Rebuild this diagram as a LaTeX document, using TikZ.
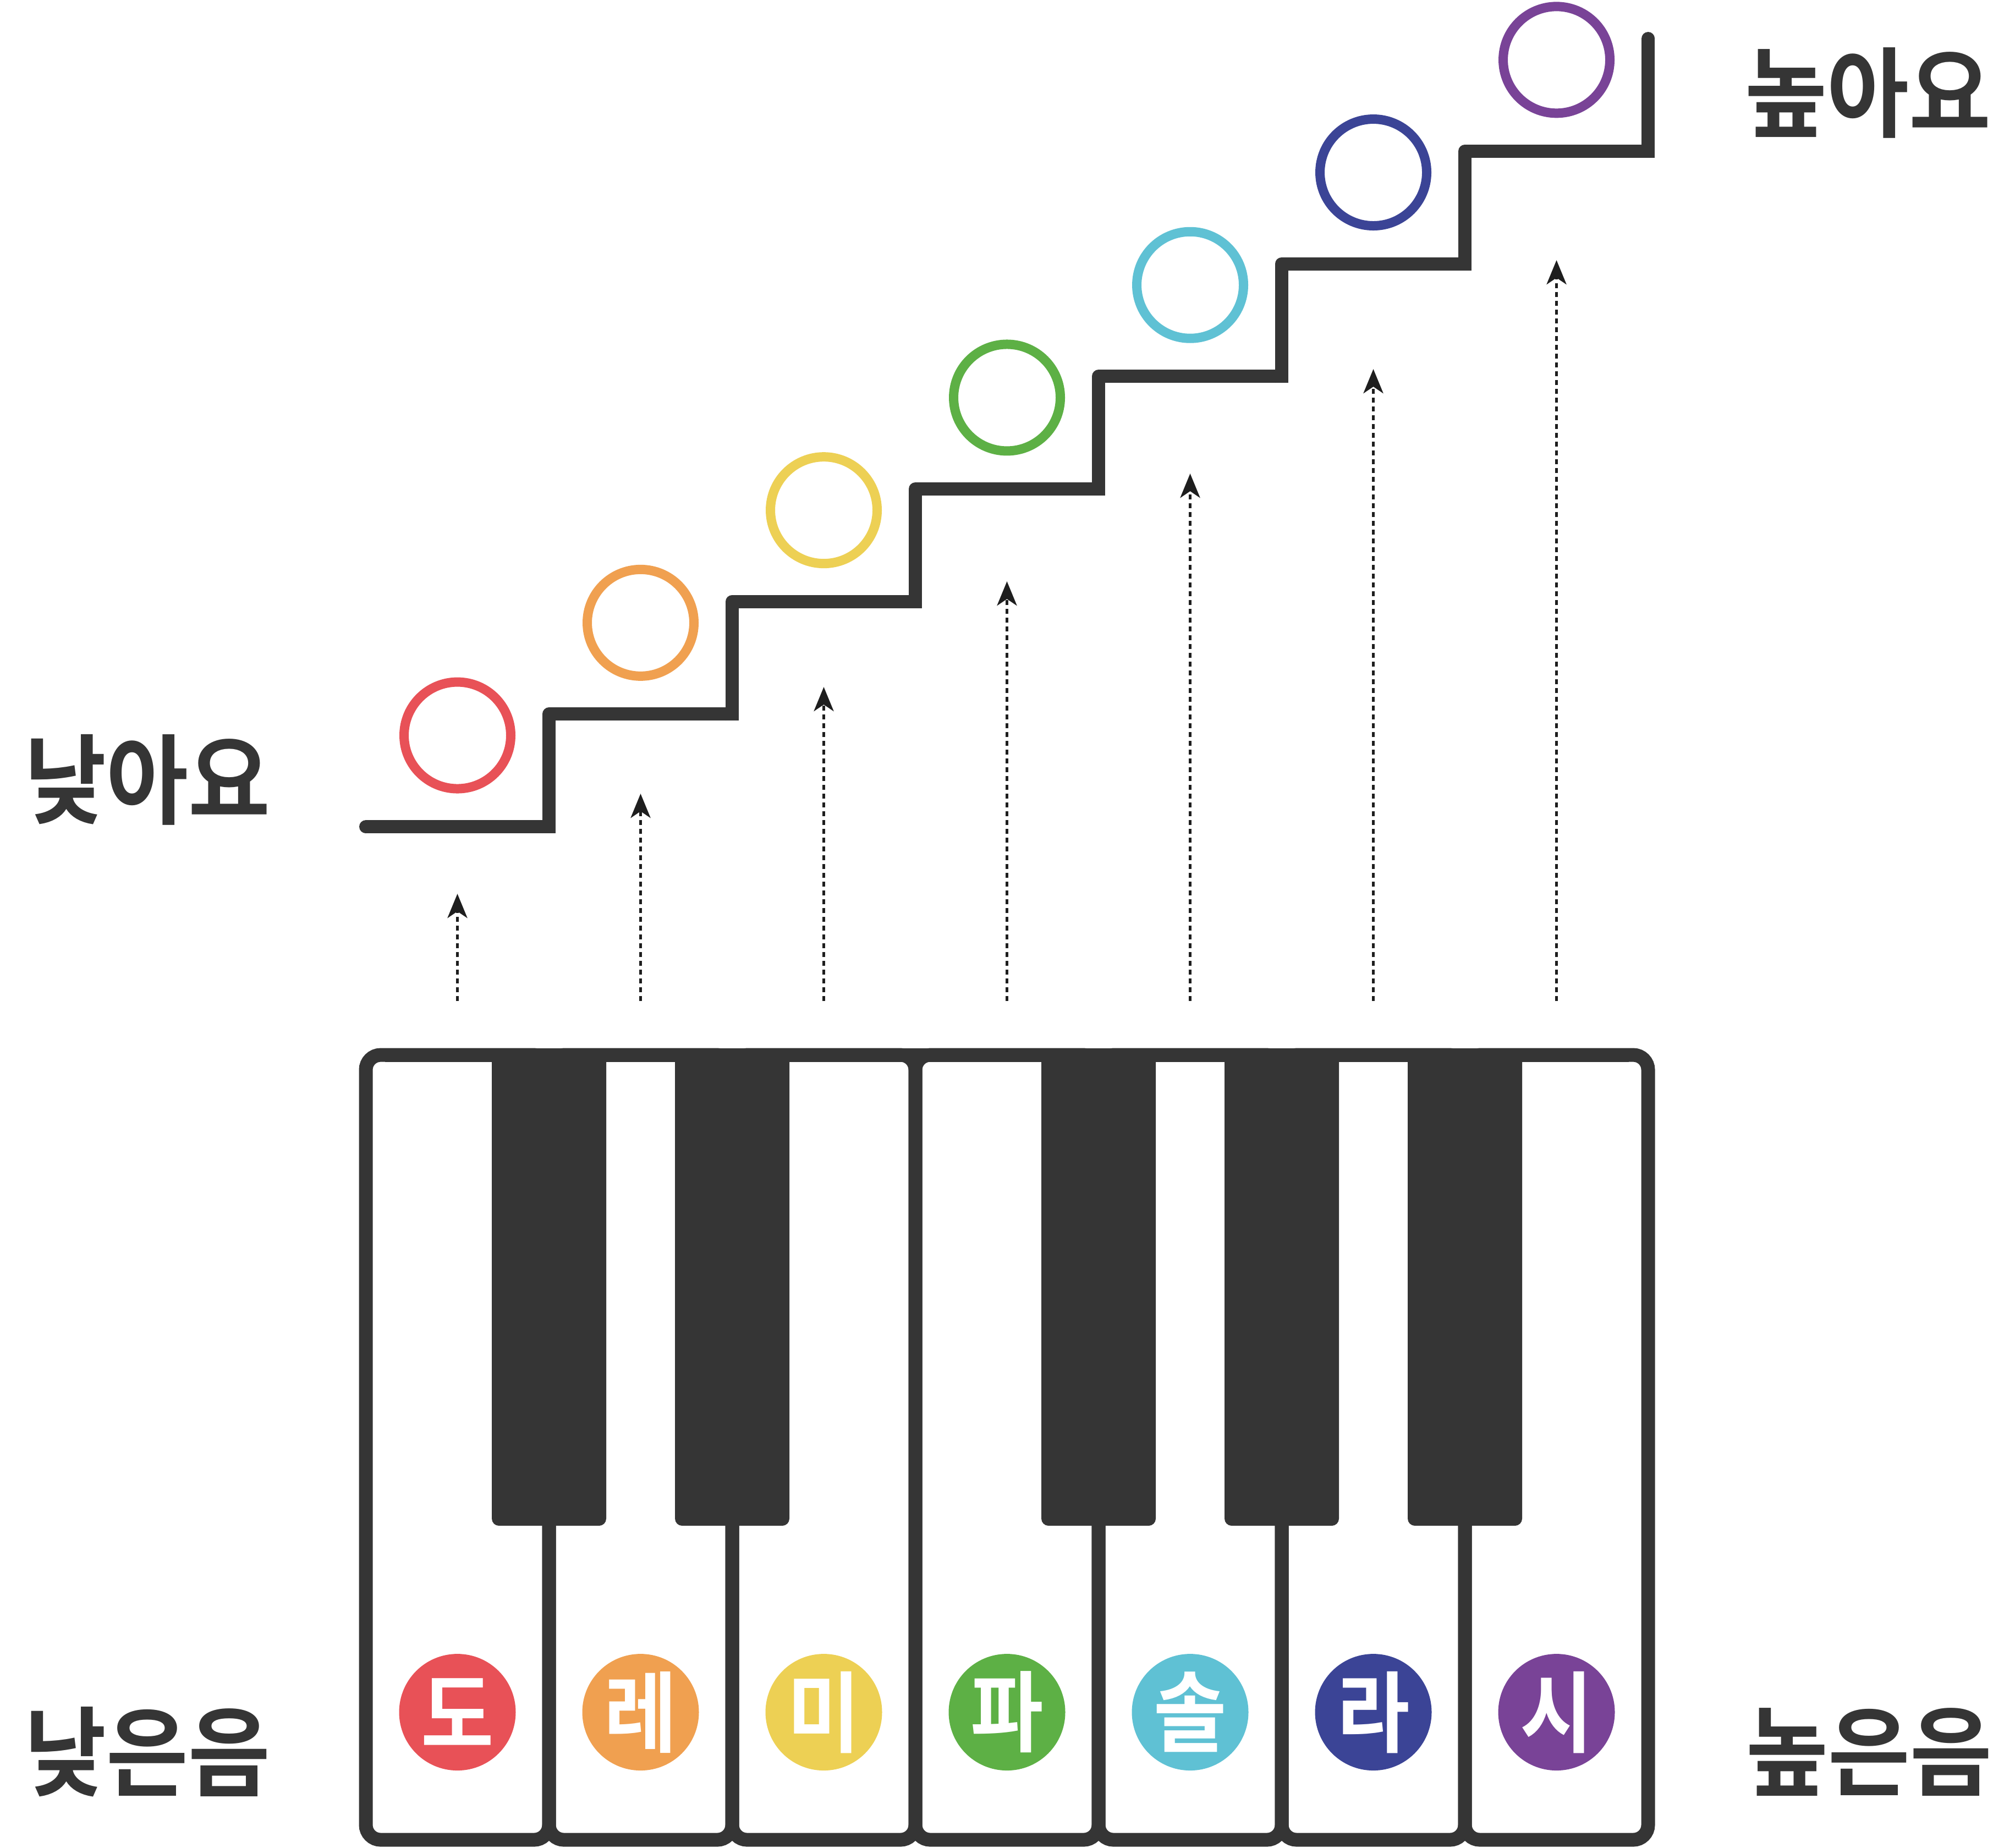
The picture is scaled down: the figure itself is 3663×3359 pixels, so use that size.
\documentclass[tikz,border=0pt]{standalone}
\usepackage{fontspec}
\usetikzlibrary{arrows.meta}
\newfontfamily\krbig[FakeStretch=0.91]{Noto Sans CJK KR Bold}
\newfontfamily\krkey[FakeStretch=0.9]{Noto Sans CJK KR Bold}
\definecolor{ink}{HTML}{353535}
\definecolor{arr}{HTML}{1E1E1E}
\definecolor{cDo}{HTML}{E85157}
\definecolor{cRe}{HTML}{F0A050}
\definecolor{cMi}{HTML}{EDD054}
\definecolor{cFa}{HTML}{5DB045}
\definecolor{cSol}{HTML}{5FC1D4}
\definecolor{cLa}{HTML}{3B4496}
\definecolor{cSi}{HTML}{794397}
\tikzset{
  keyline/.style={draw=ink, line width=2.5pt, rounded corners=2.7pt},
  stair/.style={draw=ink, line width=2.4pt},
  ring/.style={circle, draw, line width=1.7pt, minimum size=19.4pt, inner sep=0pt},
  notedot/.style={circle, fill, minimum size=21.2pt, inner sep=0pt, text=white, font=\krkey\fontsize{16pt}{16pt}\selectfont},
  uparrow/.style={draw=arr, line width=0.5pt, dash pattern=on 0.9pt off 0.7pt, -{Stealth[length=4.4pt,width=3.6pt,inset=1.2pt]}},
  biglabel/.style={text=ink, inner sep=0pt, font=\krbig\fontsize{17.8pt}{17.8pt}\selectfont}
}
\begin{document}
\begin{tikzpicture}[x=0.1pt, y=-0.1pt]
\useasboundingbox[fill=white] (0,0) rectangle (3663,3359);
% white keys
\foreach \i in {0,...,6} {
  \draw[keyline] ({665+333*\i},1918) rectangle ({665+333*(\i+1)},3345);
}
\draw[ink, line width=2.5pt] (700,1918) -- (2961,1918);
% black keys
\foreach \d in {1,2,4,5,6} {
  \fill[ink, rounded corners=1.3pt] ({665+333*\d-104},1912) rectangle ({665+333*\d+104},2774);
}
% note dots
\foreach \i/\n/\c in {1/도/cDo,2/레/cRe,3/미/cMi,4/파/cFa,5/솔/cSol,6/라/cLa,7/시/cSi} {
  \node[notedot, fill=\c] (dot\i) at ({831.5+333*(\i-1)},3113) {\n};
}
% staircase
\fill[ink] (665,1503) circle (12);
\draw[stair] (665,1503) -- (1010,1503);
\foreach \i in {2,...,7} {
  \draw[stair, line join=round] ({665+333*(\i-1)},{1503-204.7*(\i-2)+12}) -- ({665+333*(\i-1)},{1503-204.7*(\i-1)}) -- ({665+333*\i+12},{1503-204.7*(\i-1)});
}
\draw[stair] (2996,287) -- (2996,70);
\fill[ink] (2996,70) circle (12);
% rings
\foreach \i/\c in {1/cDo,2/cRe,3/cMi,4/cFa,5/cSol,6/cLa,7/cSi} {
  \node[ring, draw=\c] (ring\i) at ({831.5+333*(\i-1)},{1503-204.7*(\i-1)-166}) {};
}
% arrows
\foreach \i/\t in {1/1625,2/1443,3/1249,4/1057,5/861,6/671,7/473} {
  \coordinate (as\i) at ({831.5+333*(\i-1)},1820);
  \coordinate (ae\i) at ({831.5+333*(\i-1)},\t);
  \draw[uparrow] (as\i) -- (ae\i);
}
% labels
\node[biglabel] (low) at (268,1418) {낮아요};
\node[biglabel] (lownote) at (268,3185) {낮은음};
\node[biglabel] (high) at (3396,169) {높아요};
\node[biglabel] (highnote) at (3398,3185) {높은음};
\end{tikzpicture}
\end{document}
